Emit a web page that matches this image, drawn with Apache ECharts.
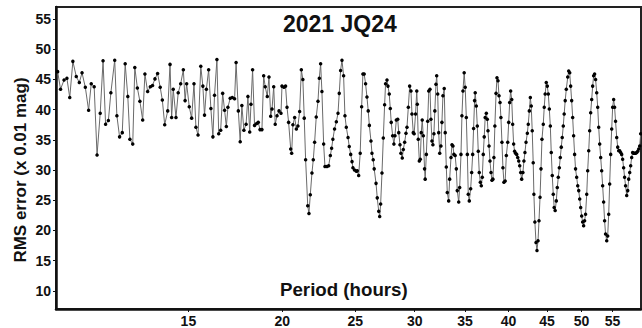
<!DOCTYPE html>
<html>
<head>
<meta charset="utf-8">
<script src="https://cdn.jsdelivr.net/npm/echarts@6/dist/echarts.min.js"></script>
<style>
  html, body { margin: 0; padding: 0; background: #fff; }
  #chart { width: 642px; height: 328px; }
</style>
</head>
<body>
<div id="chart"></div>
<script>
// period (hours) and RMS error (x 0.01 mag)
const periods = [
  10.05,10.14,10.25,10.34,10.43,10.53,10.64,10.74,10.83,10.94,11.05,11.14,11.24,11.34,11.45,11.55,11.64,11.74,11.83,11.97,
  12.05,12.15,12.25,12.36,12.46,12.54,12.65,12.73,12.83,12.93,13.04,13.13,13.24,13.35,13.44,13.54,13.65,13.76,13.85,13.95,
  14.08,14.18,14.25,14.32,
  14.44,14.54,14.65,14.77,14.85,14.92,15.04,15.15,15.26,15.35,15.45,15.58,15.68,15.76,15.85,15.96,16.07,16.17,16.25,16.37,
  16.46,16.56,16.66,16.76,16.85,16.93,17.05,17.16,17.28,17.36,17.48,17.58,17.67,17.78,17.90,18.00,18.10,18.17,18.26,18.37,
  18.49,18.58,18.68,18.79,18.89,18.98,19.10,19.20,19.30,19.38,19.48,19.57,19.68,19.80,19.92,19.98,20.10,20.20,20.29,20.39,
  20.52,20.58,20.66,20.77,20.88,20.98,21.09,21.20,21.30,21.39,21.48,21.62,21.70,21.79,21.90,21.99,22.08,22.19,22.31,22.40,
  22.49,22.58,22.70,22.79,22.93,23.05,23.17,23.26,23.35,23.47,23.60,23.72,23.81,23.91,24.01,24.13,24.23,24.33,24.46,24.55,
  24.66,24.76,24.83,24.95,25.09,25.16,25.27,25.39,25.50,25.60,25.70,25.81,25.92,26.02,26.11,26.24,26.32,26.42,26.50,26.65,
  26.75,26.87,26.95,27.03,27.14,27.25,27.36,27.44,27.56,27.64,27.75,27.84,27.92,28.04,28.15,28.24,28.36,28.48,28.57,28.68,
  28.76,28.88,28.97,29.09,29.21,
  29.30,29.42,29.54,29.66,29.75,29.87,29.95,30.08,30.19,30.24,30.33,30.43,30.52,30.61,30.70,30.80,30.92,30.98,31.09,31.22,
  31.32,31.44,31.53,31.63,31.72,31.82,31.91,32.02,32.09,32.19,32.29,32.39,32.51,32.61,32.71,32.84,32.94,33.05,33.15,33.29,
  33.39,33.53,33.63,33.73,33.83,33.96,34.08,34.18,34.33,34.43,34.57,34.67,34.78,34.91,35.02,35.14,35.25,35.35,35.46,35.61,
  35.72,35.83,35.93,36.04,36.11,36.23,36.34,36.45,36.56,36.68,36.79,36.90,37.01,37.12,37.23,37.36,37.47,37.55,37.67,37.78,
  37.90,38.01,38.12,38.24,38.35,38.49,38.60,38.72,38.84,38.96,39.07,39.19,39.31,39.43,39.58,39.72,39.89,40.01,40.13,40.25,
  40.38,40.50,40.62,40.74,40.86,41.00,41.13,41.26,41.38,41.51,41.63,
  41.79,41.92,42.05,42.19,42.36,42.48,42.62,42.75,42.87,43.00,43.13,43.22,43.35,43.50,43.63,43.77,43.90,44.04,44.17,44.30,
  44.48,44.61,44.74,44.89,45.03,45.17,45.31,45.45,45.58,45.72,45.86,45.99,46.13,46.29,46.43,46.57,46.72,46.86,47.00,47.14,
  47.29,47.42,47.57,47.73,47.94,48.08,48.23,48.37,48.52,48.67,48.81,48.96,49.10,49.27,49.43,49.58,49.73,49.88,50.03,50.18,
  50.33,50.48,50.63,50.81,50.96,51.12,51.27,51.43,51.59,51.74,51.90,52.05,52.21,52.39,52.55,52.71,52.87,53.03,53.19,53.35,
  53.51,53.67,53.83,54.02,54.18,54.35,54.51,54.68,54.85,55.01,55.18,55.34,55.50,55.70,55.87,56.04,56.21,56.38,56.55,56.72,
  56.89,57.06,57.23,57.43,57.61,57.78,57.96,58.13,58.31,58.48,58.66,58.83,59.01,59.22,59.40,59.58,59.76,59.94
];
const rms = [
  46.3,43.4,44.9,45.2,42.0,48.0,45.5,44.5,46.1,43.7,39.9,44.3,43.8,32.5,39.4,48.1,37.6,38.2,42.8,48.2,
  39.0,35.5,36.2,47.6,42.2,35.1,34.3,47.0,43.6,41.4,38.3,45.9,43.0,43.8,44.0,45.1,46.0,43.7,41.6,37.5,
  39.8,47.5,38.7,43.4,
  38.7,42.8,44.3,46.6,41.5,44.3,40.5,38.6,44.3,37.1,35.8,47.2,43.9,39.1,43.4,46.6,40.2,35.5,42.4,48.3,
  36.0,36.6,42.7,39.9,37.2,40.4,41.9,42.0,41.8,47.8,39.8,34.7,40.7,36.6,37.6,42.2,36.3,40.9,46.6,37.4,
  37.7,37.9,36.7,36.7,45.6,43.8,42.2,45.4,38.9,40.1,43.8,37.6,39.0,39.8,39.4,43.9,43.7,43.9,40.4,37.9,
  33.5,32.8,37.5,38.7,36.8,37.3,39.7,46.6,45.0,38.6,31.7,24.1,22.8,25.9,29.5,31.7,34.6,38.8,41.4,45.2,
  47.6,43.0,34.3,30.6,30.6,30.7,32.4,33.6,35.1,36.8,38.0,39.4,42.7,46.5,48.2,45.6,39.0,37.1,35.4,33.9,
  32.6,31.4,30.4,30.0,29.8,29.9,29.1,32.8,40.5,45.9,45.9,44.3,42.1,39.8,37.4,34.8,32.8,31.7,30.2,27.8,
  25.4,23.2,22.3,24.4,29.5,35.3,40.8,44.3,44.9,43.9,42.6,40.2,37.9,35.7,34.3,35.7,38.3,38.4,36.2,34.2,
  32.8,32.0,33.4,34.6,36.1,
  37.1,40.4,43.9,43.1,39.3,36.2,36.0,39.3,43.1,40.9,35.1,31.5,31.8,36.2,38.3,35.7,30.2,28.5,32.6,38.1,
  43.1,43.4,38.4,34.8,34.2,36.0,39.8,44.2,45.6,42.6,36.2,32.8,34.0,37.9,42.3,43.5,36.2,30.5,26.3,24.9,
  28.5,32.1,34.2,34.0,32.6,32.4,30.2,26.6,24.7,27.1,32.6,39.0,43.1,46.1,43.7,38.7,32.6,26.0,24.9,26.9,
  29.6,32.6,36.9,41.5,42.8,40.6,37.3,33.1,29.6,28.0,27.4,28.8,32.6,35.5,38.7,39.4,38.4,36.5,34.0,31.5,
  29.6,28.3,28.5,32.1,37.3,42.7,45.3,44.8,42.3,41.2,38.7,34.6,30.4,28.0,28.2,32.4,34.6,37.9,41.2,43.1,
  41.7,37.6,34.3,33.1,32.8,32.6,32.1,31.5,30.7,29.6,28.5,
  29.6,31.5,32.9,34.6,36.1,37.6,39.8,42.0,40.6,36.5,31.2,26.0,21.4,18.0,16.7,18.3,21.6,25.5,30.2,35.1,
  37.6,40.4,42.6,44.5,43.9,42.6,40.1,37.3,32.9,29.1,26.0,23.8,23.3,24.9,27.1,28.8,30.4,32.1,33.8,35.4,
  37.3,39.3,41.5,43.4,45.4,46.4,46.1,43.9,41.5,38.7,35.7,32.6,30.2,28.8,27.4,26.6,25.2,23.8,22.4,21.4,
  20.8,21.6,22.7,26.0,29.9,33.2,36.5,39.5,41.7,43.9,45.6,45.9,45.0,42.8,40.4,37.1,34.3,32.1,29.9,27.4,
  24.7,21.6,19.4,18.3,19.1,22.7,27.7,32.6,36.8,40.4,41.7,40.4,38.1,35.4,33.8,33.2,33.2,32.9,32.6,31.8,
  30.4,28.8,27.4,25.8,26.6,28.5,29.6,30.7,32.1,32.9,32.8,32.8,32.8,32.9,33.1,33.5,34.0,36.0
];
const periodTicks = [15, 20, 25, 30, 35, 40, 45, 50, 55];
const rmsTicks = [10, 15, 20, 25, 30, 35, 40, 45, 50, 55];

const chartTitle = '2021 JQ24';
const xName = 'Period (hours)';
const yName = 'RMS error (x 0.01 mag)';

const fontFamily = '"Liberation Sans", Arial, sans-serif';
const ink = '#111';

var myChart = echarts.init(document.getElementById('chart'), null, { renderer: 'svg' });

const option = {
    animation: false,
    grid: {
        left: 56, right: 1, top: 7, bottom: 19,
        show: true, borderColor: '#222', borderWidth: 2
    },
    xAxis: [
        {
            // the data axis: period on a log scale
            type: 'log', logBase: 10, min: 10, max: 60,
            axisLine: { show: false }, axisTick: { show: false },
            axisLabel: { show: false }, splitLine: { show: false }
        },
        {
            // labels only, in log10(period) so the ticks line up with the log axis
            type: 'value', position: 'bottom',
            min: 1, max: Math.log10(60),
            axisLine: { show: true, onZero: false, lineStyle: { color: ink, width: 2.5 } },
            axisTick: { show: true, customValues: periodTicks.map(Math.log10), length: 3, lineStyle: { color: ink, width: 1 } },
            axisLabel: {
                customValues: periodTicks.map(Math.log10),
                formatter: v => String(Math.round(Math.pow(10, v))),
                margin: 5, color: ink, fontSize: 14, fontWeight: 'bold', fontFamily: fontFamily
            },
            splitLine: { show: false }
        }
    ],
    yAxis: {
        type: 'value', min: 7, max: 57,
        axisLine: { show: true, lineStyle: { color: ink, width: 2.5 } },
        axisTick: { show: true, customValues: rmsTicks, length: 3, lineStyle: { color: ink, width: 1 } },
        axisLabel: {
            customValues: rmsTicks, margin: 5,
            color: ink, fontSize: 14, fontWeight: 'bold', fontFamily: fontFamily
        },
        splitLine: { show: false }
    },
    graphic: [
        {
            type: 'text', left: 283, top: 12,
            style: { text: chartTitle, fill: ink, font: 'bold 23px ' + fontFamily }
        },
        {
            type: 'text', left: 280, top: 280,
            style: { text: xName, fill: ink, font: 'bold 18.7px ' + fontFamily }
        },
        {
            type: 'text', x: 20, y: 170, rotation: Math.PI / 2,
            style: { text: yName, fill: ink, font: 'bold 17px ' + fontFamily, align: 'center', verticalAlign: 'middle' }
        }
    ],
    series: [
        {
            type: 'line',
            xAxisIndex: 0,
            data: periods.map((p, i) => [p, rms[i]]),
            symbol: 'circle',
            symbolSize: 3.5,
            itemStyle: { color: '#000' },
            lineStyle: { color: '#6a6a6a', width: 1 }
        }
    ]
};

myChart.setOption(option);
</script>
</body>
</html>
